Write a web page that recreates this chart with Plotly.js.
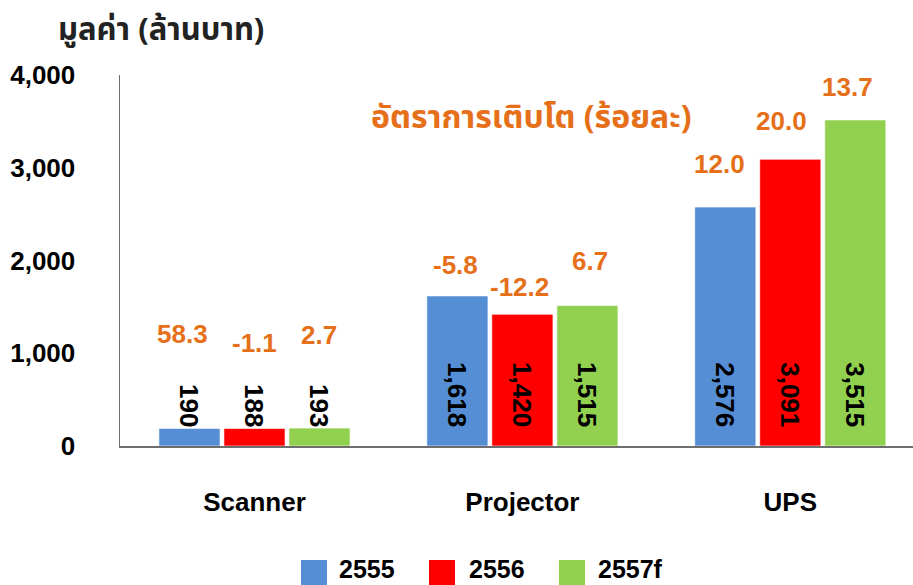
<!DOCTYPE html>
<html>
<head>
<meta charset="utf-8">
<script src="https://cdn.plot.ly/plotly-3.0.1.min.js"></script>
<style>html,body{margin:0;padding:0;background:#fff;}#chart{width:913px;height:585px;}</style>
</head>
<body>
<div id="chart"></div>
<script>
// ---- data ----
const categories = ['Scanner', 'Projector', 'UPS'];
const years = ['2555', '2556', '2557f'];
const value2555 = [190, 1618, 2576];
const value2556 = [188, 1420, 3091];
const value2557f = [193, 1515, 3515];
const growth2555 = [58.3, -5.8, 12.0];
const growth2556 = [-1.1, -12.2, 20.0];
const growth2557f = [2.7, 6.7, 13.7];
const yTickVals = [0, 1000, 2000, 3000, 4000];
const yTickText = ['0', '1,000', '2,000', '3,000', '4,000'];
const yTitle = 'มูลค่า (ล้านบาท)';
const growthTitle = 'อัตราการเติบโต (ร้อยละ)';

// ---- styling / layout helpers ----
const colors = ['#558ED5', '#FF0000', '#92D050'];
const orange = '#E6701A';
const boldFont = 'Liberation Sans, Arial, sans-serif';
const thaiFont = 'Tahoma, Leelawadee UI, Noto Sans Thai, Noto Sans, sans-serif';
const values = [value2555, value2556, value2557f];
const growths = [growth2555, growth2556, growth2557f];
// pixel lift of each growth label above its bar top (layout only)
const growthLift = [[94, 31, 43], [86, 27, 38], [93, 44, 33]];
const growthNudge = [[-7, -2, -6], [0, -3, -9], [0, 3, -8]];
const slotPx = 65;

const W = 913, H = 585;
const M = {l: 120, r: 0, t: 75, b: 139};
const PW = W - M.l - M.r, PH = H - M.t - M.b;
const px2x = p => (p - M.l) / PW;
const py2y = p => (H - M.b - p) / PH;

const traces = years.map((yr, k) => ({
  type: 'bar',
  name: yr,
  x: categories,
  y: values[k],
  marker: {color: colors[k], line: {color: 'rgba(255,255,255,0.6)', width: 1}},
  showlegend: false,
  hoverinfo: 'x+y'
}));

const annotations = [];
years.forEach((yr, k) => {
  categories.forEach((c, i) => {
    // value label, rotated, near base
    annotations.push({
      x: c, y: 0, xref: 'x', yref: 'y',
      xshift: (k - 1) * slotPx,
      yshift: 17,
      yanchor: 'bottom', xanchor: 'center',
      textangle: 90,
      text: values[k][i].toLocaleString('en-US'),
      showarrow: false,
      font: {family: boldFont, size: 26, color: '#000', weight: 'bold'}
    });
    // growth label
    annotations.push({
      x: c, y: values[k][i], xref: 'x', yref: 'y',
      xshift: (k - 1) * slotPx + growthNudge[k][i],
      yshift: growthLift[k][i],
      yanchor: 'middle', xanchor: 'center',
      text: growths[k][i].toFixed(1),
      showarrow: false,
      font: {family: boldFont, size: 26, color: orange, weight: 'bold'}
    });
  });
});

// y-axis title at top-left
annotations.push({
  xref: 'paper', yref: 'paper', x: px2x(161), y: py2y(30),
  xanchor: 'center', yanchor: 'middle', showarrow: false,
  text: yTitle,
  font: {family: thaiFont, size: 31, color: '#222', weight: 'bold'}
});
// growth subtitle
annotations.push({
  xref: 'paper', yref: 'paper', x: px2x(531), y: py2y(118),
  xanchor: 'center', yanchor: 'middle', showarrow: false,
  text: growthTitle,
  font: {family: thaiFont, size: 32, color: orange, weight: 'bold'}
});

// custom legend
const legendSq = [301, 429, 559];
const legendTx = [338, 468, 597];
const shapes = [];
years.forEach((yr, k) => {
  shapes.push({
    type: 'rect', xref: 'paper', yref: 'paper',
    x0: px2x(legendSq[k]), x1: px2x(legendSq[k] + 26),
    y0: py2y(585), y1: py2y(560),
    fillcolor: colors[k], line: {width: 0}
  });
  annotations.push({
    xref: 'paper', yref: 'paper', x: px2x(legendTx[k]), y: py2y(569),
    xanchor: 'left', yanchor: 'middle', showarrow: false,
    text: yr, borderpad: 0,
    font: {family: boldFont, size: 25, color: '#000', weight: 'bold'}
  });
});

const layout = {
  width: W, height: H,
  margin: M,
  paper_bgcolor: '#fff', plot_bgcolor: '#fff',
  barmode: 'group',
  bargap: 0.272,
  bargroupgap: 0.06,
  showlegend: false,
  xaxis: {
    type: 'category',
    range: [-0.502, 2.458],
    showline: true, linecolor: '#6e6e6e', linewidth: 1.5,
    ticks: '', showgrid: false, zeroline: false,
    ticklabelstandoff: 32,
    tickfont: {family: boldFont, size: 26, color: '#000', weight: 'bold'},
    fixedrange: true
  },
  yaxis: {
    range: [0, 4000],
    tickvals: yTickVals, ticktext: yTickText,
    showline: true, linecolor: '#6e6e6e', linewidth: 1.5,
    ticks: '', showgrid: false, zeroline: false,
    ticklabelstandoff: 38,
    tickfont: {family: boldFont, size: 26, color: '#000', weight: 'bold'},
    fixedrange: true
  },
  annotations: annotations,
  shapes: shapes
};

Plotly.newPlot('chart', traces, layout, {displayModeBar: false, staticPlot: true});
</script>
</body>
</html>
